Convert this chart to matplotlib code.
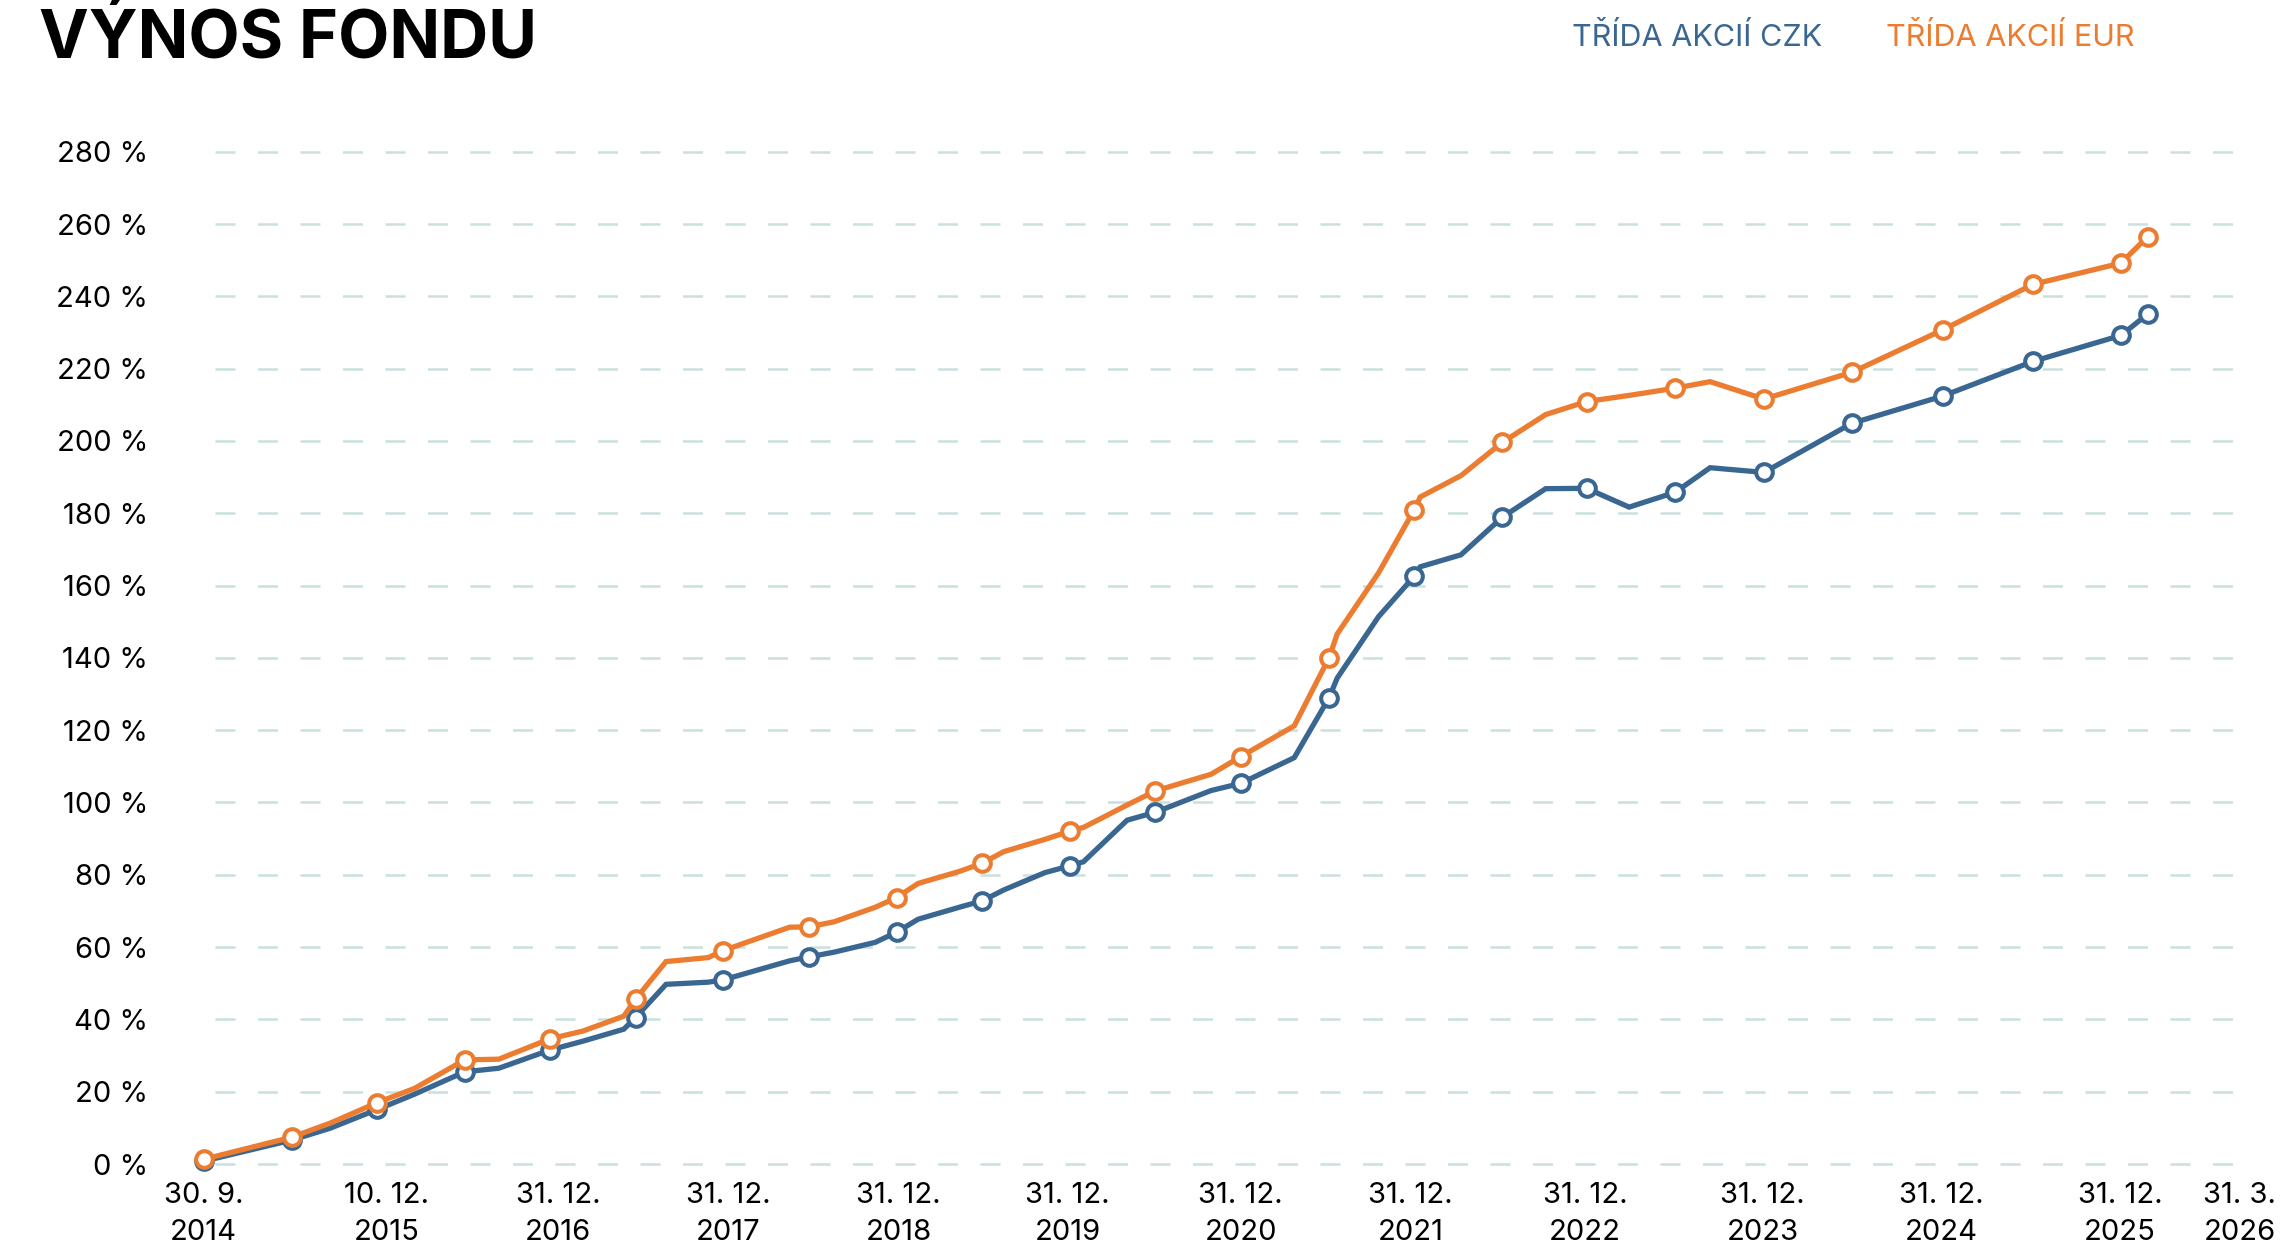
import matplotlib
matplotlib.use("Agg")
import matplotlib.pyplot as plt

plt.rcParams["font.family"] = ["Inter", "DejaVu Sans"]

# x positions as decimal years
dates = [2014.750, 2015.254, 2015.475, 2015.746, 2015.958, 2016.246, 2016.442,
         2016.733, 2016.925, 2017.158, 2017.225, 2017.400, 2017.642, 2017.725,
         2018.108, 2018.220, 2018.363, 2018.598, 2018.721, 2018.844, 2019.079,
         2019.212, 2019.335, 2019.571, 2019.716, 2019.792, 2020.042, 2020.204,
         2020.523, 2020.694, 2021.000, 2021.200, 2021.246, 2021.483, 2021.688,
         2021.722, 2021.955, 2022.192, 2022.441, 2022.675, 2022.919, 2023.183,
         2023.383, 2023.692, 2024.196, 2024.715, 2025.233, 2025.738, 2025.890]

czk = [0.8, 6.6, 9.9, 15.1, 19.3, 25.5, 26.5, 31.5, 34.0, 37.3, 40.5, 49.7,
       50.3, 50.9, 56.2, 57.3, 58.6, 61.3, 64.1, 67.7, 71.0, 72.8, 75.8, 80.6,
       82.5, 83.6, 95.1, 97.3, 103.3, 105.3, 112.4, 129.0, 134.4, 151.4, 162.6,
       165.2, 168.5, 178.9, 186.8, 186.9, 181.7, 185.8, 192.6, 191.3, 204.9,
       212.4, 222.0, 229.2, 235.1]

eur = [1.3, 7.4, 11.3, 17.0, 20.9, 28.8, 29.0, 34.6, 36.8, 40.9, 45.6, 56.0,
       57.1, 59.0, 65.5, 65.6, 67.0, 71.0, 73.7, 77.6, 80.9, 83.2, 86.4, 89.8,
       92.1, 93.1, 99.3, 103.2, 107.8, 112.7, 121.2, 140.1, 146.6, 163.5, 181.0,
       184.5, 190.4, 199.6, 207.3, 210.9, 212.6, 214.6, 216.4, 211.6, 219.0,
       230.7, 243.3, 249.2, 256.5]

# points drawn with a hollow marker
marked = [1, 1, 0, 1, 0, 1, 0, 1, 0, 0, 1, 0, 0, 1, 0, 1, 0, 0, 1, 0, 0, 1, 0,
          0, 1, 0, 0, 1, 0, 1, 0, 1, 0, 0, 1, 0, 0, 1, 0, 1, 0, 1, 0, 1, 1, 1,
          1, 1, 1]

tick_pos = [2014.75, 2015.80, 2016.783, 2017.758, 2018.733, 2019.70, 2020.692,
            2021.667, 2022.667, 2023.683, 2024.708, 2025.733, 2026.417]
tick_labels = ["30. 9.\n2014", "10. 12.\n2015", "31. 12.\n2016", "31. 12.\n2017",
               "31. 12.\n2018", "31. 12.\n2019", "31. 12.\n2020", "31. 12.\n2021",
               "31. 12.\n2022", "31. 12.\n2023", "31. 12.\n2024", "31. 12.\n2025",
               "31. 3.\n2026"]
y_ticks = list(range(0, 281, 20))

BLUE = "#3a6792"
ORANGE = "#ec7c30"
GRID = "#c9e0df"

fig = plt.figure(figsize=(22.8, 12.5), dpi=100)
ax = fig.add_axes([190 / 2280, 0.0630, 2060 / 2280, 0.8214])

marks = [i for i, m in enumerate(marked) if m]
for vals, color, z in [(czk, BLUE, 3), (eur, ORANGE, 4)]:
    ax.plot(dates, vals, color=color, lw=3.8, zorder=z, solid_joinstyle="miter",
            marker="o", markevery=marks, ms=12, mfc="white", mec=color, mew=2.9)

for y in y_ticks:
    ax.axhline(y, xmin=0.012, xmax=0.993, color=GRID, lw=1.8,
               dashes=(8, 9), zorder=1)

ax.set_xlim(2014.672, 2026.477)
ax.set_ylim(-2, 282)
ax.set_yticks(y_ticks)
ax.set_yticklabels([f"{y} %" for y in y_ticks], fontsize=21)
ax.set_xticks(tick_pos)
ax.set_xticklabels(tick_labels, fontsize=21, linespacing=1.45)
ax.tick_params(axis="y", length=0, pad=30)
ax.tick_params(axis="x", length=0, pad=8)
for s in ax.spines.values():
    s.set_visible(False)

fig.text(39 / 2280, 1 - 57 / 1250, "VÝNOS FONDU", fontsize=48,
         fontweight="bold", ha="left", va="baseline", color="black")
fig.text(1572 / 2280, 1 - 38 / 1250, "TŘÍDA AKCIÍ CZK", fontsize=22,
         color=BLUE, ha="left", va="center")
fig.text(1886 / 2280, 1 - 38 / 1250, "TŘÍDA AKCIÍ EUR", fontsize=22,
         color=ORANGE, ha="left", va="center")

fig.savefig("out.png", dpi=100)
